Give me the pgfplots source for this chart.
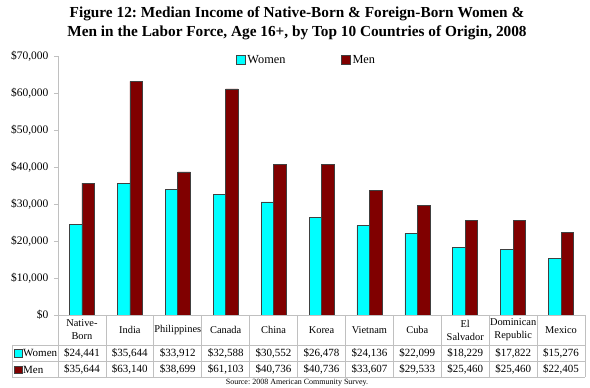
\documentclass[border=0pt]{standalone}
\usepackage{pgfplots}
\pgfplotsset{compat=1.18}
\usepackage{fontspec}
\setmainfont{Liberation Serif}
\frenchspacing
\definecolor{wcol}{HTML}{00FFFF}
\definecolor{mcol}{HTML}{800000}
\definecolor{gridc}{HTML}{C0C0C0}
\begin{document}
\begin{tikzpicture}[x=1pt,y=1pt]
\path[use as bounding box] (0,0) rectangle (590,388);
\node[font=\fontsize{15.3}{19}\selectfont\bfseries, align=center] at (297,364.5) {Figure 12: Median Income of Native-Born \& Foreign-Born Women \&\\Men in the Labor Force, Age 16+, by Top 10 Countries of Origin, 2008};
\begin{axis}[
  at={(58pt,73pt)}, anchor=south west,
  scale only axis, width=527pt, height=259pt,
  xmin=-0.5, xmax=10.5, ymin=0, ymax=70000,
  axis x line=bottom, axis y line=left,
  axis line style={-, gridc, line width=0.8pt},
  xtick=\empty,
  scaled y ticks=false,
  ytick={0,10000,20000,30000,40000,50000,60000,70000},
  yticklabels={\$0,{\$10,000},{\$20,000},{\$30,000},{\$40,000},{\$50,000},{\$60,000},{\$70,000}},
  yticklabel style={font=\fontsize{11.5}{13}\selectfont, xshift=-2pt},
  ytick style={gridc, line width=0.8pt},
  tick align=outside, major tick length=4pt,
  bar width=12.5pt,
  legend columns=2,
  legend style={draw=none, fill=none, at={(0.472,0.985)}, anchor=center, font=\fontsize{12.3}{14}\selectfont,
    /tikz/every even column/.append style={column sep=54pt}},
  legend image code/.code={\draw[#1] (0pt,-4pt) rectangle (8.5pt,4.5pt);},
]
\addplot[ybar, fill=wcol, draw=black!75, line width=0.6pt, bar shift=-6.25pt] coordinates {
(0,24441) (1,35644) (2,33912) (3,32588) (4,30552) (5,26478) (6,24136) (7,22099) (8,18229) (9,17822) (10,15276)};
\addplot[ybar, fill=mcol, draw=black!75, line width=0.6pt, bar shift=6.25pt] coordinates {
(0,35644) (1,63140) (2,38699) (3,61103) (4,40736) (5,40736) (6,33607) (7,29533) (8,25460) (9,25460) (10,22405)};
\legend{Women,Men}
\end{axis}
% table grid
\draw[gridc, line width=0.7pt] (12,43) -- (585,43);
\draw[gridc, line width=0.7pt] (12,26.5) -- (585,26.5);
\draw[gridc, line width=0.7pt] (12,11) -- (585,11);
\draw[gridc, line width=0.7pt] (12,43) -- (12,11);
\foreach \k in {0,...,11} {\draw[gridc, line width=0.7pt] ({58+47.909*\k},73) -- ({58+47.909*\k},11);}
% legend keys in table
\draw[black!75, fill=wcol, line width=0.5pt] (14,31) rectangle (22,38.5);
\node[anchor=west, font=\fontsize{11}{13}\selectfont, inner sep=0pt] at (23,34.7) {Women};
\draw[black!75, fill=mcol, line width=0.5pt] (14,14.5) rectangle (22,22);
\node[anchor=west, font=\fontsize{11}{13}\selectfont, inner sep=0pt] at (23,18.5) {Men};
% table contents
\foreach \i/\name/\w/\m in {
 0/{Native-\\Born}/{24,441}/{35,644},
 1/India/{35,644}/{63,140},
 2/Philippines/{33,912}/{38,699},
 3/Canada/{32,588}/{61,103},
 4/China/{30,552}/{40,736},
 5/Korea/{26,478}/{40,736},
 6/Vietnam/{24,136}/{33,607},
 7/Cuba/{22,099}/{29,533},
 8/{El\\Salvador}/{18,229}/{25,460},
 9/{Dominican\\Republic}/{17,822}/{25,460},
 10/Mexico/{15,276}/{22,405}} {
  \node[align=center, font=\fontsize{10.4}{13}\selectfont, inner sep=0pt] at ({58+47.909*(\i+0.5)},58) {\name};
  \node[font=\fontsize{11}{13}\selectfont, inner sep=0pt] at ({58+47.909*(\i+0.5)},34.7) {\$\w};
  \node[font=\fontsize{11}{13}\selectfont, inner sep=0pt] at ({58+47.909*(\i+0.5)},18.5) {\$\m};
}
\node[font=\fontsize{8}{9}\selectfont, inner sep=0pt] at (297,5) {Source: 2008 American Community Survey.};
\end{tikzpicture}
\end{document}
